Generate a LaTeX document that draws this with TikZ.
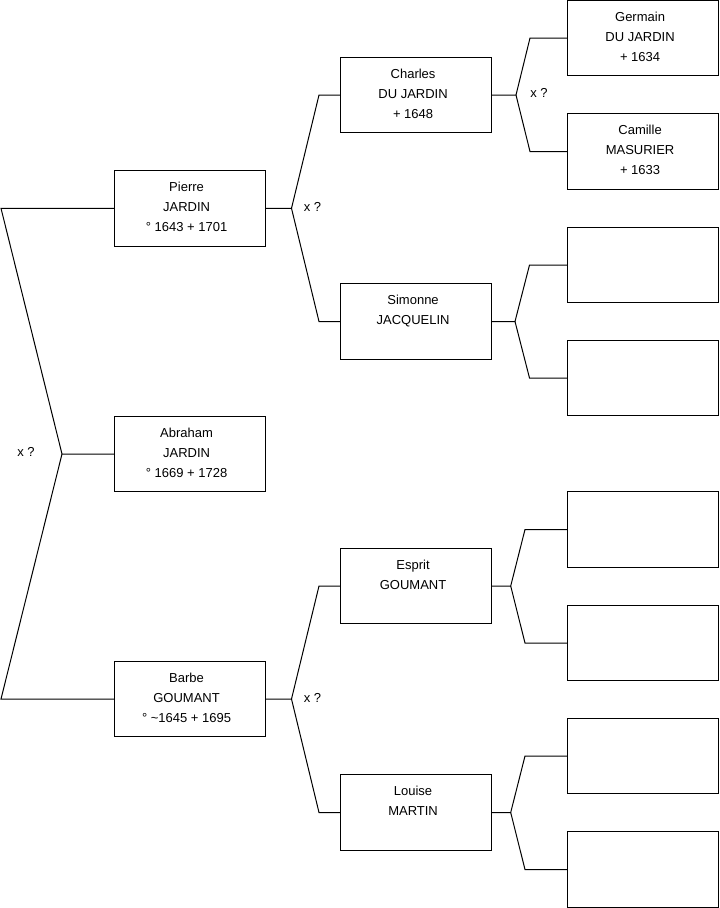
\documentclass[tikz,border=0pt]{standalone}
\usepackage{fontspec}
\setmainfont{Liberation Sans}
\usetikzlibrary{positioning}

\begin{document}
\begin{tikzpicture}[x=0.75pt, y=-0.75pt, line width=0.75pt,
  font=\fontsize{9.75}{15}\selectfont,
  every node/.style={align=center},
  person/.style={draw, minimum width=113.25pt, minimum height=56.6pt, inner sep=0pt, outer sep=0pt},
  who/.style={anchor=north, inner sep=0pt, yshift=-8.3pt, xshift=-2.2pt},
  union/.style={inner sep=0pt}]
  \useasboundingbox (0,0) rectangle (719,908);

  % generation 1
  \node[person] (abraham) at (189.5,454) {};
  \node[who] (abraham-t) at (abraham.north) {Abraham\\JARDIN\\° 1669 + 1728};

  % generation 2
  \node[person] (pierre) at (189.5,208.3) {};
  \node[who] (pierre-t) at (pierre.north) {Pierre\\JARDIN\\° 1643 + 1701};
  \node[person] (barbe) at (189.5,699) {};
  \node[who] (barbe-t) at (barbe.north) {Barbe\\GOUMANT\\° \textasciitilde 1645 + 1695};

  % generation 3
  \node[person] (charles) at (416,95) {};
  \node[who] (charles-t) at (charles.north) {Charles\\DU JARDIN\\+ 1648};
  \node[person] (simonne) at (416,321.5) {};
  \node[who] (simonne-t) at (simonne.north) {Simonne\\JACQUELIN};
  \node[person] (esprit) at (416,586) {};
  \node[who] (esprit-t) at (esprit.north) {Esprit\\GOUMANT};
  \node[person] (louise) at (416,812.5) {};
  \node[who] (louise-t) at (louise.north) {Louise\\MARTIN};

  % generation 4
  \node[person] (germain) at (643,38) {};
  \node[who] (germain-t) at (germain.north) {Germain\\DU JARDIN\\+ 1634};
  \node[person] (camille) at (643,151.5) {};
  \node[who] (camille-t) at (camille.north) {Camille\\MASURIER\\+ 1633};
  \node[person] (sim-f) at (643,265) {};
  \node[person] (sim-m) at (643,378) {};
  \node[person] (esp-f) at (643,529.5) {};
  \node[person] (esp-m) at (643,643) {};
  \node[person] (lou-f) at (643,756) {};
  \node[person] (lou-m) at (643,869.5) {};

  % forks
  \coordinate (f0) at (62,454);
  \coordinate (f0a) at (1,208.3);
  \coordinate (f0b) at (1,699);
  \draw (abraham.west) -- (f0) -- (f0a) -- (pierre.west);
  \draw (f0) -- (f0b) -- (barbe.west);
  \node[union] (u0) at (26,451.5) {x ?};

  \coordinate (f1) at (291.5,208.3);
  \coordinate (f1a) at (319,95);
  \coordinate (f1b) at (319,321.5);
  \draw (pierre.east) -- (f1) -- (f1a) -- (charles.west);
  \draw (f1) -- (f1b) -- (simonne.west);
  \node[union] (u1) at (312.5,207) {x ?};

  \coordinate (f2) at (516,95);
  \coordinate (f2a) at (530,38);
  \coordinate (f2b) at (530,151.5);
  \draw (charles.east) -- (f2) -- (f2a) -- (germain.west);
  \draw (f2) -- (f2b) -- (camille.west);
  \node[union] (u2) at (539,93) {x ?};

  \coordinate (f3) at (515,321.5);
  \coordinate (f3a) at (529.5,265);
  \coordinate (f3b) at (529.5,378);
  \draw (simonne.east) -- (f3) -- (f3a) -- (sim-f.west);
  \draw (f3) -- (f3b) -- (sim-m.west);

  \coordinate (f4) at (291.5,699);
  \coordinate (f4a) at (319,586);
  \coordinate (f4b) at (319,812.5);
  \draw (barbe.east) -- (f4) -- (f4a) -- (esprit.west);
  \draw (f4) -- (f4b) -- (louise.west);
  \node[union] (u4) at (312.5,697.5) {x ?};

  \coordinate (f5) at (510.7,586);
  \coordinate (f5a) at (525,529.5);
  \coordinate (f5b) at (525,643);
  \draw (esprit.east) -- (f5) -- (f5a) -- (esp-f.west);
  \draw (f5) -- (f5b) -- (esp-m.west);

  \coordinate (f6) at (510.7,812.5);
  \coordinate (f6a) at (525,756);
  \coordinate (f6b) at (525,869.5);
  \draw (louise.east) -- (f6) -- (f6a) -- (lou-f.west);
  \draw (f6) -- (f6b) -- (lou-m.west);
\end{tikzpicture}
\end{document}
